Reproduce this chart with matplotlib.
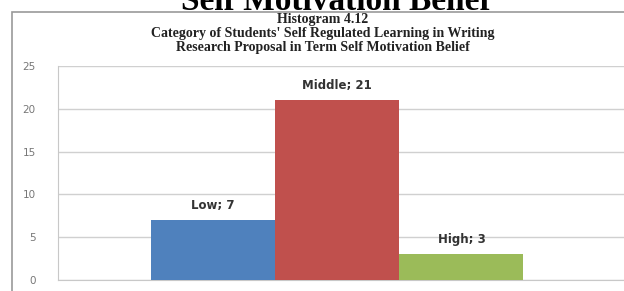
import matplotlib.pyplot as plt
import matplotlib.patches as patches

categories = ["Low", "Middle", "High"]
counts = [7, 21, 3]
bar_colors = ["#4F81BD", "#C0504D", "#9BBB59"]
yticks = [0, 5, 10, 15, 20, 25]

W, H = 624, 291
fig = plt.figure(figsize=(W / 100, H / 100), dpi=100)

# plot area in pixels: left 58, right 624, top 66 (y=25), bottom 280 (y=0)
ax = fig.add_axes([58 / W, 1 - 280 / H, (624 - 58) / W, (280 - 66) / H])

x = list(range(len(categories)))
ax.bar(x, counts, width=1.0, color=bar_colors, zorder=3)
for xi, cat, v in zip(x, categories, counts):
    ax.annotate(f"{cat}; {v}", (xi, v), xytext=(0, 6), textcoords="offset points",
                ha="center", va="bottom", fontsize=8.5, fontweight="bold", color="#333333")

ax.set_ylim(0, 25)
ax.set_xlim(-1.25, 3.31)
ax.set_yticks(yticks)
ax.set_xticks([])
ax.yaxis.grid(True, color="#d0d0d0", linewidth=1, zorder=0)
for s in ["top", "right"]:
    ax.spines[s].set_visible(False)
ax.spines["left"].set_color("#c8c8c8")
ax.spines["bottom"].set_color("#c8c8c8")
ax.tick_params(axis="y", length=0, pad=16, labelsize=7.5, labelcolor="#777777")

# chart frame
fig.add_artist(patches.Rectangle((12 / W, -0.01), 1, 1 - 12 / H + 0.01,
                                 transform=fig.transFigure, fill=False,
                                 edgecolor="#999999", linewidth=1.2))

# heading above the chart (its top is cut by the image edge)
fig.text(336 / W, 1 - 10 / H, "Self Motivation Belief", ha="center", va="baseline",
         fontsize=24, fontweight="bold", family="Liberation Serif")

title_lines = ["Histogram 4.12",
               "Category of Students' Self Regulated Learning in Writing",
               "Research Proposal in Term Self Motivation Belief"]
for i, line in enumerate(title_lines):
    fig.text(323 / W, 1 - (20 + 14 * i) / H, line, ha="center", va="center",
             fontsize=10, fontweight="bold", family="Liberation Serif", color="#222222")

fig.savefig("out.png", dpi=100)
